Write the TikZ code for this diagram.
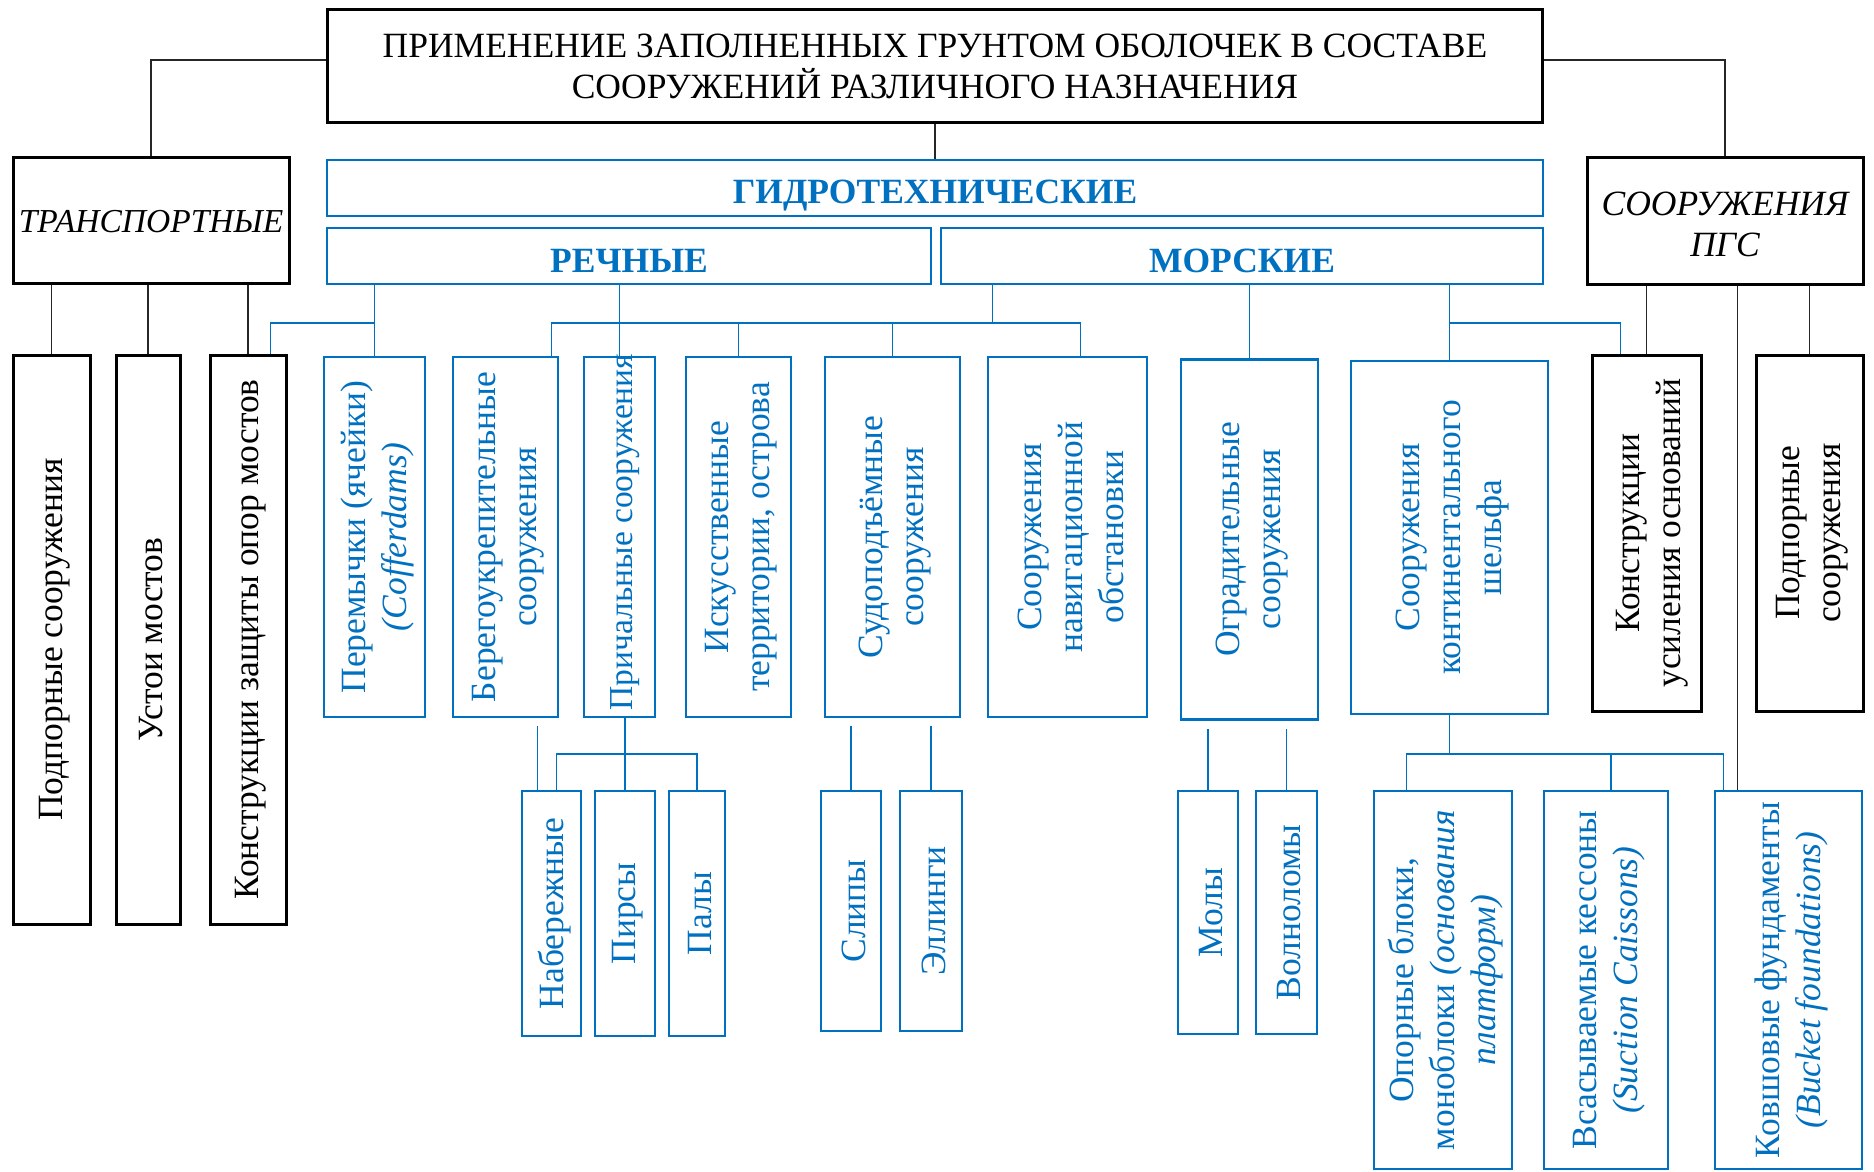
\documentclass[tikz,border=0pt]{standalone}
\usepackage{fontspec}
\setmainfont{Liberation Serif}
\usetikzlibrary{calc}
\definecolor{myblue}{RGB}{0,112,192}
\newcommand{\boxfont}{\fontsize{35.5}{41}\selectfont}
\begin{document}
\begin{tikzpicture}[x=1pt,y=-1pt,
  kbox/.style={draw=black, line width=3pt, rectangle, inner sep=0pt},
  bbox/.style={draw=myblue, line width=2.8pt, rectangle, inner sep=0pt},
  htxt/.style={align=center, inner sep=0pt, font=\boxfont},
  vtxt/.style={xshift=3pt, rotate=90, align=center, inner sep=0pt, font=\boxfont},
  btxt/.style={vtxt, text=myblue},
  kline/.style={draw=black!85, line width=1.1pt},
  bl/.style={draw=myblue, line width=1.2pt}]

\fill[white] (0,0) rectangle (1874,1172);
\useasboundingbox (0,0) rectangle (1874,1172);

% --- top level ---
\node[kbox, minimum width=1215pt, minimum height=112pt] (top) at (935,66) {};
\node[htxt] at (top) {ПРИМЕНЕНИЕ ЗАПОЛНЕННЫХ ГРУНТОМ ОБОЛОЧЕК В СОСТАВЕ\\СООРУЖЕНИЙ РАЗЛИЧНОГО НАЗНАЧЕНИЯ};

\node[kbox, minimum width=276pt, minimum height=126pt] (trans) at (151,220) {};
\node[htxt, anchor=base, font=\fontsize{33.5}{41}\selectfont] at ([yshift=-12pt]trans.center) {\itshape ТРАНСПОРТНЫЕ};

\node[kbox, minimum width=276pt, minimum height=127pt] (pgs) at (1725,220.5) {};
\node[htxt] at ([yshift=-4pt]pgs.center) {\itshape СООРУЖЕНИЯ\\\itshape ПГС};

\node[bbox, minimum width=1216pt, minimum height=56pt] (gidro) at (935,188) {};
\node[htxt, text=myblue, anchor=base] at ([yshift=-15pt]gidro.center) {\bfseries ГИДРОТЕХНИЧЕСКИЕ};

\node[bbox, minimum width=604pt, minimum height=56pt] (rech) at (629,256) {};
\node[htxt, text=myblue, anchor=base] at ([yshift=-16pt]rech.center) {\bfseries РЕЧНЫЕ};

\node[bbox, minimum width=602pt, minimum height=56pt] (mor) at (1242,256) {};
\node[htxt, text=myblue, anchor=base] at ([yshift=-16pt]mor.center) {\bfseries МОРСКИЕ};

% --- second level ---
\node[kbox, minimum width=77pt, minimum height=569pt] (pod1) at (51.5,639.5) {};
\node[kbox, minimum width=64pt, minimum height=569pt] (ust) at (148,639.5) {};
\node[kbox, minimum width=76pt, minimum height=569pt] (kzo) at (248,639.5) {};

\node[bbox, minimum width=101pt, minimum height=360pt] (per) at (374.5,537) {};
\node[bbox, minimum width=105pt, minimum height=360pt] (bereg) at (505.5,537) {};
\node[bbox, minimum width=71pt, minimum height=360pt] (pric) at (619.5,537) {};
\node[bbox, minimum width=105pt, minimum height=360pt] (isk) at (738.5,537) {};
\node[bbox, minimum width=135pt, minimum height=360pt] (sud) at (892.5,537) {};
\node[bbox, minimum width=159pt, minimum height=360pt] (nav) at (1067.5,537) {};
\node[bbox, minimum width=137pt, minimum height=360pt] (ogr) at (1249.5,539.5) {};
\node[bbox, minimum width=197pt, minimum height=353pt] (shelf) at (1449.5,537.5) {};
\node[kbox, minimum width=109pt, minimum height=356pt] (kus) at (1646.5,533) {};
\node[kbox, minimum width=107pt, minimum height=356pt] (pod2) at (1809.5,533) {};

% --- third level ---
\node[bbox, minimum width=59pt, minimum height=245pt] (naber) at (551.5,913.5) {};
\node[bbox, minimum width=60pt, minimum height=245pt] (pir) at (625,913.5) {};
\node[bbox, minimum width=56pt, minimum height=245pt] (pal) at (697,913.5) {};
\node[bbox, minimum width=60pt, minimum height=240pt] (slip) at (851,911) {};
\node[bbox, minimum width=62pt, minimum height=240pt] (ell) at (931,911) {};
\node[bbox, minimum width=60pt, minimum height=243pt] (mol) at (1208,912.5) {};
\node[bbox, minimum width=61pt, minimum height=243pt] (voln) at (1286.5,912.5) {};
\node[bbox, minimum width=138pt, minimum height=378pt] (op) at (1443,980) {};
\node[bbox, minimum width=124pt, minimum height=378pt] (vs) at (1606,980) {};
\node[bbox, minimum width=147pt, minimum height=378pt] (kov) at (1788.5,980) {};

% --- connectors: top level ---
\draw[kline] ([yshift=6pt]top.west) -| (trans.north);
\draw[kline] ([yshift=6pt]top.east) -| (pgs.north);
\draw[kline] (top.south) -- (gidro.north);
\draw[kline] (trans.south -| pod1.north) -- (pod1.north);
\draw[kline] (trans.south -| ust.north) -- (ust.north);
\draw[kline] (trans.south -| kzo.north) -- (kzo.north);

% --- connectors: river and sea groups ---
\coordinate (busA) at (0,323);
\coordinate (kzodrop) at ([xshift=-17pt]kzo.north east);
\coordinate (berdrop) at ([xshift=-8pt]bereg.north east);
\coordinate (navdrop) at ([xshift=13pt]nav.north);
\coordinate (mordrop) at ([xshift=53pt]mor.south west);
\coordinate (kusdrop) at ([xshift=-26pt]kus.north);
\draw[bl] (rech.south -| per.north) -- (per.north);
\draw[bl] (per.north |- busA) -| (kzodrop);
\draw[bl] (rech.south -| pric.north) -- (pric.north);
\draw[bl] (berdrop) |- (navdrop |- busA) -- (navdrop);
\draw[bl] (isk.north |- busA) -- (isk.north);
\draw[bl] (sud.north |- busA) -- (sud.north);
\draw[bl] (mordrop) -- (mordrop |- busA);
\draw[bl] (mor.south -| ogr.north) -- (ogr.north);
\draw[bl] (mor.south -| shelf.north) -- (shelf.north);
\draw[bl] (shelf.north |- busA) -| (kusdrop);

% --- connectors: civil engineering group ---
\coordinate (kovdrop) at ([xshift=24pt]kov.north west);
\draw[kline] (pgs.south -| kus.north) -- (kus.north);
\draw[kline] (pgs.south -| pod2.north) -- (pod2.north);
\draw[kline] (pgs.south -| kovdrop) -- (kovdrop);

% --- connectors: third level ---
\coordinate (busB) at (0,754);
\coordinate (gap1) at ([yshift=-8pt]bereg.south);
\coordinate (gap2) at ([yshift=-8pt]sud.south);
\coordinate (gap3) at ([yshift=-8pt]ogr.south);
\coordinate (nab1) at ([xshift=17pt]naber.north west);
\coordinate (nab2) at ([xshift=36pt]naber.north west);
\coordinate (opdrop) at ([xshift=34pt]op.north west);
\coordinate (kovb) at ([xshift=10pt]kov.north west);
\coordinate (vsdrop) at ([xshift=5pt]vs.north);
\draw[bl] (nab1 |- gap1) -- (nab1);
\draw[bl] (nab2) |- (pal.north |- busB) -- (pal.north);
\draw[bl] (pric.south -| pir.north) -- (pir.north);
\draw[bl] (slip.north |- gap2) -- (slip.north);
\draw[bl] (ell.north |- gap2) -- (ell.north);
\draw[bl] (mol.north |- gap3) -- (mol.north);
\draw[bl] (voln.north |- gap3) -- (voln.north);
\draw[bl] (shelf.south) -- (shelf.south |- busB);
\draw[bl] (opdrop) |- (kovb |- busB) -- (kovb);
\draw[bl] (vsdrop |- busB) -- (vsdrop);

% --- vertical labels ---
\node[vtxt] at (pod1) {Подпорные сооружения};
\node[vtxt] at (ust) {Устои мостов};
\node[vtxt] at (kzo) {Конструкции защиты опор мостов};
\node[btxt] at (per) {Перемычки (ячейки)\\\textit{(Cofferdams)}};
\node[btxt] at (bereg) {Берегоукрепительные\\сооружения};
\node[btxt, font=\fontsize{33.5}{41}\selectfont] at ([xshift=3pt,yshift=5pt]pric.center) {Причальные сооружения};
\node[btxt] at (isk) {Искусственные\\территории, острова};
\node[btxt] at (sud) {Судоподъёмные\\сооружения};
\node[btxt] at (nav) {Сооружения\\навигационной\\обстановки};
\node[btxt] at (ogr) {Оградительные\\сооружения};
\node[btxt] at (shelf) {Сооружения\\континентального\\шельфа};
\node[vtxt] at ([xshift=3pt]kus.center) {Конструкции\\усиления оснований};
\node[vtxt] at (pod2) {Подпорные\\сооружения};
\node[btxt] at (naber) {Набережные};
\node[btxt] at (pir) {Пирсы};
\node[btxt] at (pal) {Палы};
\node[btxt] at (slip) {Слипы};
\node[btxt] at (ell) {Эллинги};
\node[btxt] at (mol) {Молы};
\node[btxt] at (voln) {Волноломы};
\node[btxt] at (op) {Опорные блоки,\\моноблоки \textit{(основания}\\\textit{платформ)}};
\node[btxt] at (vs) {Всасываемые кессоны\\\textit{(Suction Caissons)}};
\node[btxt] at (kov) {Ковшовые фундаменты\\\textit{(Bucket foundations)}};
\end{tikzpicture}
\end{document}
